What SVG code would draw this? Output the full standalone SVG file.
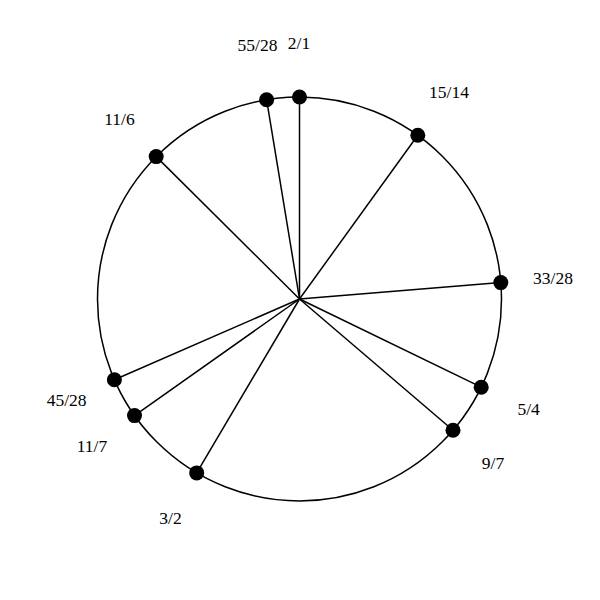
<svg xmlns="http://www.w3.org/2000/svg" width="600" height="600" viewBox="0 0 600 600">
<style>
.s{stroke:#000;stroke-width:1.5;fill:none}
.d{fill:#000}
text{font-family:"Liberation Serif",serif;font-size:17.5px;fill:#000;text-anchor:middle}
</style>
<rect width="600" height="600" fill="#fff"/>
<circle id="ring" class="s" cx="299.5" cy="299" r="202"/>
<g id="connectors" class="s">
<line x1="299.5" y1="299" x2="299.5" y2="97"/>
<line x1="299.5" y1="299" x2="417.8" y2="135.2"/>
<line x1="299.5" y1="299" x2="500.8" y2="282.6"/>
<line x1="299.5" y1="299" x2="481.2" y2="387.2"/>
<line x1="299.5" y1="299" x2="453" y2="430.3"/>
<line x1="299.5" y1="299" x2="196.7" y2="472.9"/>
<line x1="299.5" y1="299" x2="134.5" y2="415.6"/>
<line x1="299.5" y1="299" x2="114.4" y2="379.8"/>
<line x1="299.5" y1="299" x2="156.2" y2="156.6"/>
<line x1="299.5" y1="299" x2="266.6" y2="99.7"/>
</g>
<g id="n21"><circle class="d" cx="299.5" cy="97" r="7.5"/><text x="299" y="49">2/1</text></g>
<g id="n5528"><circle class="d" cx="266.6" cy="99.7" r="7.5"/><text x="257.5" y="51">55/28</text></g>
<g id="n1514"><circle class="d" cx="417.8" cy="135.2" r="7.5"/><text x="449" y="98">15/14</text></g>
<g id="n3328"><circle class="d" cx="500.8" cy="282.6" r="7.5"/><text x="553" y="283.5">33/28</text></g>
<g id="n54"><circle class="d" cx="481.2" cy="387.2" r="7.5"/><text x="528.7" y="415">5/4</text></g>
<g id="n97"><circle class="d" cx="453" cy="430.3" r="7.5"/><text x="493" y="469">9/7</text></g>
<g id="n32"><circle class="d" cx="196.7" cy="472.9" r="7.5"/><text x="170.5" y="523.5">3/2</text></g>
<g id="n117"><circle class="d" cx="134.5" cy="415.6" r="7.5"/><text x="92" y="451.5">11/7</text></g>
<g id="n4528"><circle class="d" cx="114.4" cy="379.8" r="7.5"/><text x="66.7" y="406">45/28</text></g>
<g id="n116"><circle class="d" cx="156.2" cy="156.6" r="7.5"/><text x="119.5" y="125">11/6</text></g>
</svg>
